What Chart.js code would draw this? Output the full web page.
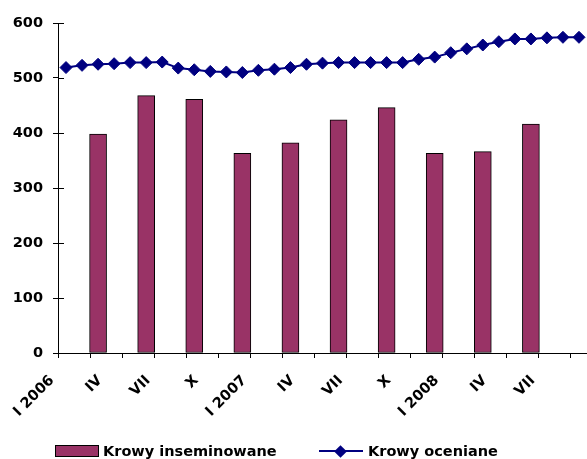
<!DOCTYPE html>
<html>
<head>
<meta charset="utf-8">
<script src="https://cdn.jsdelivr.net/npm/chart.js@4.4.1/dist/chart.umd.min.js"></script>
<style>
    html, body { margin: 0; padding: 0; background: #fff; }
    #wrap { position: relative; width: 587px; height: 459px; overflow: hidden; }
    #chart { position: absolute; left: 0; top: 0; }
    .legend-text { position: absolute; top: 443px; font: bold 14.5px "DejaVu Sans", sans-serif; line-height: 17px; color: #000; white-space: nowrap; }
    .swatch-bar { position: absolute; left: 55px; top: 445px; width: 44px; height: 12px; background: #993366; border: 1px solid #000; box-sizing: border-box; }
    .swatch-line { position: absolute; left: 319px; top: 450px; width: 44px; height: 2px; background: #000080; }
    .swatch-diamond { position: absolute; left: 335.5px; top: 446.5px; width: 9px; height: 9px; background: #000080; transform: rotate(45deg); }
</style>
</head>
<body>
<div id="wrap">
    <canvas id="chart" width="587" height="459"></canvas>
    <div class="swatch-bar"></div>
    <div class="legend-text" style="left:103px">Krowy inseminowane</div>
    <div class="swatch-line"></div>
    <div class="swatch-diamond"></div>
    <div class="legend-text" style="left:368px">Krowy oceniane</div>
</div>
<script>
// etykiety osi X (co kwartał)
const tickLabels = ['I 2006', 'IV', 'VII', 'X', 'I 2007', 'IV', 'VII', 'X', 'I 2008', 'IV', 'VII'];

// Krowy inseminowane - słupki kwartalne (od IV 2006)
const inseminated = [398, 468, 461, 363, 382, 424, 446, 363, 366, 416];

// Krowy oceniane - dane miesięczne
const assessed = [
    519, 523, 525, 526, 528, 528, 529, 518, 515, 512, 511, 510,
    514, 516, 519, 525, 527, 528, 528, 528, 528, 528, 534, 538,
    546, 553, 560, 566, 571, 571, 573, 574, 574
];

const yTicks = [0, 100, 200, 300, 400, 500, 600];

const FONT = { family: '"DejaVu Sans", sans-serif', size: 14.5, weight: 'bold' };

// słupek stoi w ostatnim miesiącu przed etykietą kwartału
const barPoints = inseminated.map((v, i) => ({ x: (i + 1) * 3 - 1, y: v }));
const linePoints = assessed.map((v, i) => ({ x: i, y: v }));

function isMark(value) {
    return ((value + 0.5) % 2) === 0;
}

function labelFor(value) {
    const k = (value + 0.5) / 3;
    return Number.isInteger(k) && tickLabels[k] ? tickLabels[k] : '';
}

// krótkie kreski po wewnętrznej stronie osi Y
const innerTicks = {
    id: 'innerTicks',
    afterDatasetsDraw(chart) {
        const y = chart.scales.y;
        const left = chart.chartArea.left;
        const ctx = chart.ctx;
        ctx.save();
        ctx.strokeStyle = '#000';
        ctx.lineWidth = 1;
        y.ticks.forEach(t => {
            const py = Math.round(y.getPixelForValue(t.value)) + 0.5;
            ctx.beginPath();
            ctx.moveTo(left, py);
            ctx.lineTo(left + 6, py);
            ctx.stroke();
        });
        ctx.restore();
    }
};

new Chart(document.getElementById('chart'), {
    type: 'bar',
    data: {
        datasets: [
            {
                type: 'line',
                label: 'Krowy oceniane',
                data: linePoints,
                borderColor: '#000080',
                borderWidth: 2,
                pointStyle: 'rectRot',
                pointRadius: 6,
                pointBackgroundColor: '#000080',
                pointBorderColor: '#000080',
                pointBorderWidth: 1,
                tension: 0,
                clip: false,
                order: 0
            },
            {
                type: 'bar',
                label: 'Krowy inseminowane',
                data: barPoints,
                backgroundColor: '#993366',
                borderColor: '#000',
                borderWidth: 1,
                borderSkipped: false,
                barThickness: 17,
                order: 1
            }
        ]
    },
    options: {
        responsive: false,
        animation: false,
        devicePixelRatio: 1,
        layout: { autoPadding: false, padding: { top: 23, right: 0, bottom: 0, left: 0 } },
        plugins: {
            legend: { display: false },
            tooltip: { enabled: false }
        },
        scales: {
            x: {
                type: 'linear',
                offset: false,
                min: -0.5,
                max: assessed.length - 0.5,
                afterBuildTicks: (scale) => {
                    const vals = new Set();
                    for (let v = -0.5; v < assessed.length - 0.5; v += 2) vals.add(v);
                    tickLabels.forEach((_, i) => vals.add(i * 3 - 0.5));
                    scale.ticks = [...vals].sort((a, b) => a - b).map(v => ({ value: v }));
                },
                afterFit: (scale) => {
                    scale.height = 106;
                    scale.paddingLeft = 0;
                    scale.paddingRight = 0;
                },
                grid: {
                    offset: false,
                    drawOnChartArea: false,
                    tickLength: 5,
                    tickColor: (ctx) => (ctx.tick && isMark(ctx.tick.value)) ? '#000' : 'rgba(0,0,0,0)'
                },
                border: { color: '#000', width: 1 },
                ticks: {
                    autoSkip: false,
                    minRotation: 45,
                    maxRotation: 45,
                    padding: 14,
                    labelOffset: -6,
                    color: '#000',
                    font: FONT,
                    callback: (value) => labelFor(value)
                }
            },
            y: {
                min: 0,
                max: 600,
                afterBuildTicks: (scale) => {
                    scale.ticks = yTicks.map(v => ({ value: v }));
                },
                afterFit: (scale) => {
                    scale.width = 58;
                },
                grid: {
                    drawOnChartArea: false,
                    tickLength: 5,
                    tickColor: '#000'
                },
                border: { color: '#000', width: 1 },
                ticks: {
                    padding: 10,
                    color: '#000',
                    font: FONT
                }
            }
        }
    },
    plugins: [innerTicks]
});
</script>
</body>
</html>
